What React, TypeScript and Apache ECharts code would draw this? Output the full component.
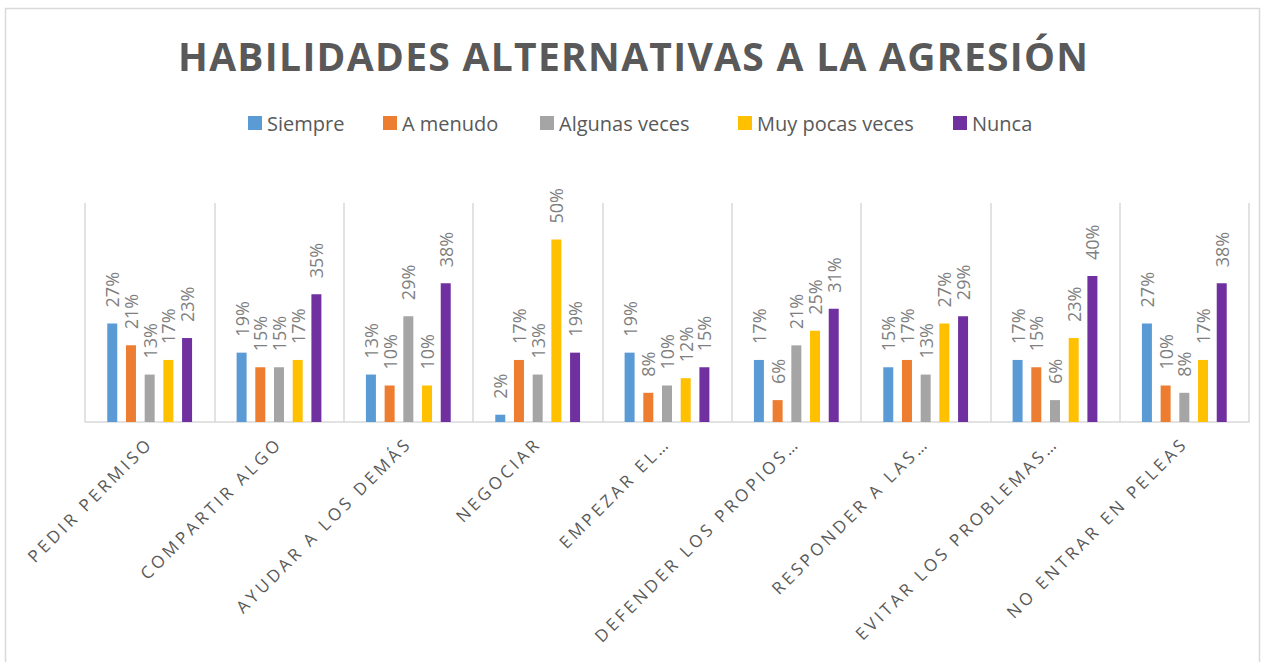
import React, { useEffect, useRef } from "react";
import * as echarts from "echarts";

const categories = [
  "PEDIR PERMISO",
  "COMPARTIR ALGO",
  "AYUDAR A LOS DEMÁS",
  "NEGOCIAR",
  "EMPEZAR EL\u2026",
  "DEFENDER LOS PROPIOS\u2026",
  "RESPONDER A LAS\u2026",
  "EVITAR LOS PROBLEMAS\u2026",
  "NO ENTRAR EN PELEAS",
];

const titleText = "HABILIDADES ALTERNATIVAS A LA AGRESIÓN";

const seriesNames = ["Siempre", "A menudo", "Algunas veces", "Muy pocas veces", "Nunca"];
const seriesColors = ["#5B9BD5", "#ED7D31", "#A5A5A5", "#FFC000", "#7030A0"];

const siempre = [27, 19, 13, 2, 19, 17, 15, 17, 27];
const aMenudo = [21, 15, 10, 17, 8, 6, 17, 15, 10];
const algunasVeces = [13, 15, 29, 13, 10, 21, 13, 6, 8];
const muyPocasVeces = [17, 17, 10, 50, 12, 25, 27, 23, 17];
const nunca = [23, 35, 38, 19, 15, 31, 29, 40, 38];

const seriesValues = [siempre, aMenudo, algunasVeces, muyPocasVeces, nunca];
const legendLefts = [243, 378, 535, 733, 948];

const TEXT = "#595959";
const FONT = "'Open Sans', 'Noto Sans', sans-serif";

export default function App() {
  const ref = useRef<HTMLDivElement>(null);

  useEffect(() => {
    if (!ref.current) return;
    const chart = echarts.init(ref.current, undefined, { renderer: "svg" });

    const option: any = {
      animation: false,
      backgroundColor: "#ffffff",
      textStyle: { fontFamily: FONT },
      title: {
        text: titleText,
        left: 173,
        top: 31,
        textStyle: {
          fontFamily: FONT,
          fontSize: 39,
          fontWeight: "bold",
          color: TEXT,
        },
      },
      legend: seriesNames.map((name, i) => ({
        data: [name],
        left: legendLefts[i],
        top: 108,
        icon: "rect",
        itemWidth: 14,
        itemHeight: 14,
        itemGap: 0,
        selectedMode: false,
        textStyle: { fontFamily: FONT, fontSize: 20, color: TEXT },
      })),
      graphic: [
        {
          type: "rect",
          shape: { x: 5.5, y: 8.5, width: 1254, height: 660 },
          style: { fill: "none", stroke: "#d9d9d9", lineWidth: 1.5 },
          silent: true,
        },
      ],
      grid: { left: 85, right: 16, top: 203, bottom: 240, containLabel: false },
      xAxis: {
        type: "category",
        data: categories,
        axisLine: { lineStyle: { color: "#d9d9d9", width: 1.5 } },
        axisTick: { show: false },
        splitLine: { show: true, lineStyle: { color: "#d9d9d9", width: 1.5 } },
        axisLabel: {
          interval: 0,
          rotate: 45,
          margin: 18,
          fontFamily: FONT,
          fontSize: 17,
          color: TEXT,
        },
      },
      yAxis: {
        type: "value",
        min: 0,
        max: 60,
        show: false,
        splitLine: { show: false },
      },
      series: seriesNames.map((name, i) => ({
        name,
        type: "bar",
        data: seriesValues[i],
        barWidth: 10,
        barGap: "87%",
        itemStyle: { color: seriesColors[i] },
        emphasis: { disabled: true },
        label: {
          show: true,
          position: "top",
          rotate: 90,
          align: "left",
          verticalAlign: "middle",
          distance: 16,
          formatter: "{c}%",
          fontFamily: FONT,
          fontSize: 18,
          color: "#7F7F7F",
        },
      })),
    };

    chart.setOption(option);

    const applySpacing = () => {
      const texts = ref.current?.querySelectorAll("text") || [];
      texts.forEach((t: any) => {
        const s = (t.textContent || "").trim();
        if (categories.includes(s)) {
          t.setAttribute("letter-spacing", "3.4");
        } else if (s === titleText) {
          t.setAttribute("letter-spacing", "1.3");
        }
      });
    };
    applySpacing();
    chart.on("finished", applySpacing);

    return () => {
      chart.dispose();
    };
  }, []);

  return (
    <div
      ref={ref}
      style={{ position: "fixed", left: 0, top: 0, width: 1265, height: 662 }}
    />
  );
}
